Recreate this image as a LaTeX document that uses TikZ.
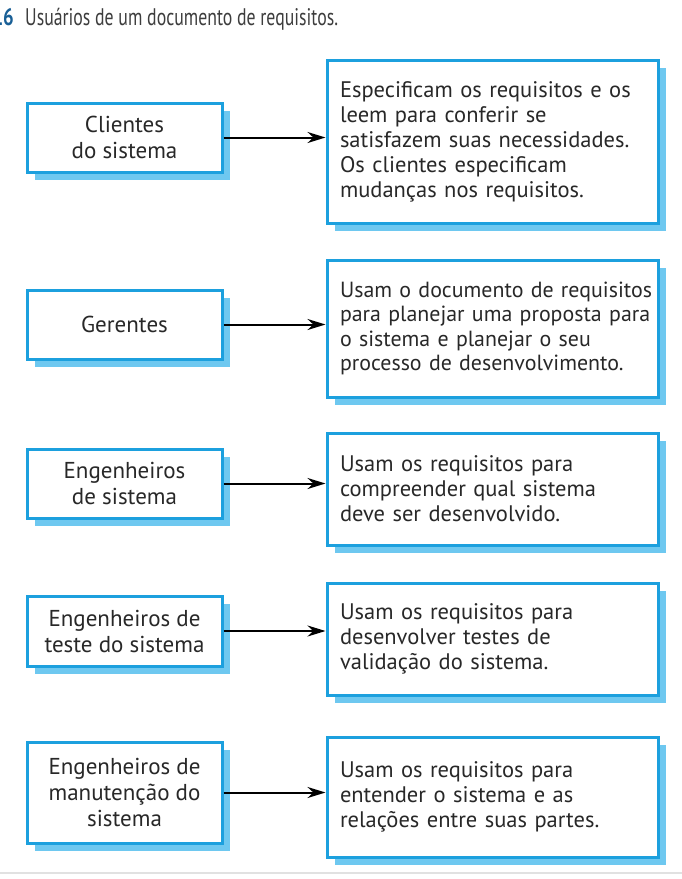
\documentclass[tikz,border=0pt]{standalone}
\usepackage{fontspec}
\setmainfont{PT Sans}
\usetikzlibrary{arrows.meta,shadows}
\definecolor{boxblue}{RGB}{28,160,222}
\definecolor{shadowblue}{RGB}{110,200,240}
\definecolor{txt}{RGB}{40,40,40}
\definecolor{numblue}{RGB}{25,95,150}
\definecolor{rulegray}{RGB}{225,225,225}
\begin{document}
\begin{tikzpicture}[x=1pt,y=-1pt,
  boxbase/.style={draw=boxblue, line width=3pt, fill=white, text=txt,
    drop shadow={shadow xshift=8pt, shadow yshift=-8pt, fill=shadowblue, draw=none, opacity=1}},
  leftbox/.style={boxbase, minimum width=195pt, inner sep=0pt, align=center,
    font=\fontsize{23}{26}\selectfont},
  rightbox/.style={boxbase, text width=305pt, inner xsep=13pt, inner ysep=0pt, align=left,
    font=\fontsize{22.5}{25}\selectfont},
  conn/.style={line width=2pt, -{Stealth[length=18pt,width=11pt]}}
]
\useasboundingbox (0,0) rectangle (682,879);
\fill[white] (0,0) rectangle (682,879);

\node[anchor=base east, font=\fontsize{24}{28}\selectfont\bfseries, text=numblue, inner sep=0pt] (num) at (14,25) {\scalebox{0.78}[1]{16}};
\node[anchor=base west, font=\fontsize{24}{28}\selectfont, text=txt!90, inner sep=0pt] (title) at (25,25) {\scalebox{0.74}[1]{Usuários de um documento de requisitos.}};

\node[leftbox, minimum height=69pt] (l1) at (124.5,137.5) {Clientes\\do sistema};
\node[leftbox, minimum height=69pt] (l2) at (124.5,324.5) {Gerentes};
\node[leftbox, minimum height=69pt] (l3) at (124.5,483.5) {Engenheiros\\de sistema};
\node[leftbox, minimum height=70pt] (l4) at (124.5,631) {Engenheiros de\\teste do sistema};
\node[leftbox, minimum height=101pt] (l5) at (124.5,792.5) {Engenheiros de\\manutenção do\\sistema};

\node[rightbox, minimum height=163pt] (r1) at (492.5,141.5) {\mbox{Especificam os requisitos e os}\\\mbox{leem para conferir se}\\\mbox{satisfazem suas necessidades.}\\\mbox{Os clientes especificam}\\\mbox{mudanças nos requisitos.}};
\node[rightbox, minimum height=137pt, font=\fontsize{21.9}{24.5}\selectfont] (r2) at (492.5,328.5) {\mbox{Usam o documento de requisitos}\\\mbox{para planejar uma proposta para}\\\mbox{o sistema e planejar o seu}\\\mbox{processo de desenvolvimento.}};
\node[rightbox, minimum height=112pt] (r3) at (492.5,489) {\mbox{Usam os requisitos para}\\\mbox{compreender qual sistema}\\\mbox{deve ser desenvolvido.}};
\node[rightbox, minimum height=112pt] (r4) at (492.5,639) {\mbox{Usam os requisitos para}\\\mbox{desenvolver testes de}\\\mbox{validação do sistema.}};
\node[rightbox, minimum height=120pt] (r5) at (492.5,797) {\mbox{Usam os requisitos para}\\\mbox{entender o sistema e as}\\\mbox{relações entre suas partes.}};

\foreach \i in {1,...,5}{
  \draw[conn] (l\i.east) -- (l\i.east -| r\i.west);
}

\coordinate (ruleL) at (0,873);
\coordinate (ruleR) at (682,873);
\draw[rulegray, line width=2pt] (ruleL) -- (ruleR);
\end{tikzpicture}
\end{document}
